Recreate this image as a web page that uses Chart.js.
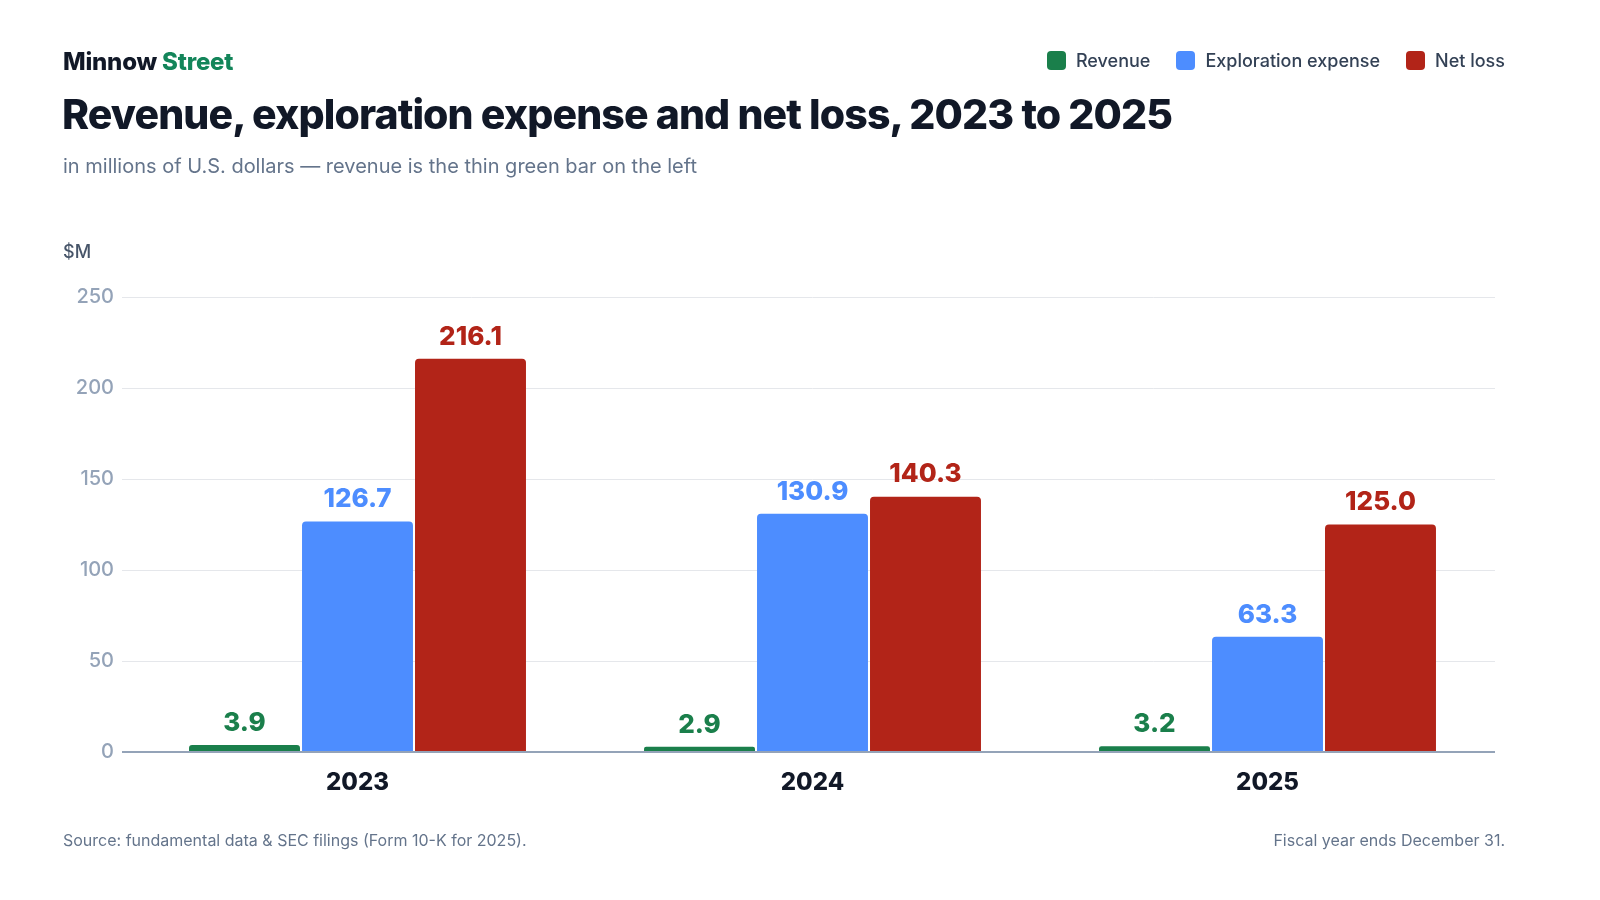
<!DOCTYPE html>
<html>
<head>
<meta charset="utf-8">
<script src="https://cdn.jsdelivr.net/npm/chart.js@4.4.1/dist/chart.umd.min.js"></script>
<style>
  html, body { margin: 0; padding: 0; background: #fff; }
  body { width: 1600px; height: 900px; position: relative; overflow: hidden; font-family: Inter, "Noto Sans", sans-serif; }
  #wrap { position: absolute; left: 0; top: 0; width: 1600px; height: 900px; }
  .abs { position: absolute; white-space: nowrap; }
  #brand { left: 63px; top: 47px; font-size: 24px; font-weight: 800; color: #111827; letter-spacing: -0.2px; }
  #brand span { color: #13855a; }
  #title { left: 62px; top: 89px; font-size: 41px; font-weight: 800; color: #111827; letter-spacing: -0.9px; }
  #subtitle { left: 63px; top: 154px; font-size: 20px; font-weight: 400; color: #64748b; }
  #unit { left: 63px; top: 241px; font-size: 18px; font-weight: 500; color: #475569; }
  #legend { right: 95px; top: 50px; display: flex; gap: 26px; font-size: 18px; font-weight: 500; color: #334155; }
  #legend .item { display: flex; align-items: center; gap: 10px; }
  #legend .sw { width: 19px; height: 19px; border-radius: 4px; display: inline-block; }
  #src { left: 63px; top: 830px; font-size: 16px; color: #64748b; }
  #note { right: 95px; top: 830px; font-size: 16px; color: #64748b; }
</style>
</head>
<body>
<div id="wrap"><canvas id="c" width="1600" height="900"></canvas></div>
<div class="abs" id="brand">Minnow <span>Street</span></div>
<div class="abs" id="title">Revenue, exploration expense and net loss, 2023 to 2025</div>
<div class="abs" id="subtitle">in millions of U.S. dollars — revenue is the thin green bar on the left</div>
<div class="abs" id="unit">$M</div>
<div class="abs" id="legend"></div>
<div class="abs" id="src">Source: fundamental data &amp; SEC filings (Form 10-K for 2025).</div>
<div class="abs" id="note">Fiscal year ends December 31.</div>
<script>
const categories = ["2023", "2024", "2025"];
const revenue = [3.9, 2.9, 3.2];
const explorationExpense = [126.7, 130.9, 63.3];
const netLoss = [216.1, 140.3, 125.0];
const seriesNames = ["Revenue", "Exploration expense", "Net loss"];
const seriesColors = ["#1a7f4b", "#4d8dff", "#b22418"];
const yTicks = [0, 50, 100, 150, 200, 250];

const legend = document.getElementById('legend');
seriesNames.forEach((n, i) => {
  const it = document.createElement('div');
  it.className = 'item';
  it.innerHTML = '<span class="sw" style="background:' + seriesColors[i] + '"></span><span>' + n + '</span>';
  legend.appendChild(it);
});

const valueLabels = {
  id: 'valueLabels',
  afterDatasetsDraw(chart) {
    const ctx = chart.ctx;
    ctx.save();
    ctx.font = '800 26px Inter, "Noto Sans", sans-serif';
    ctx.textAlign = 'center';
    ctx.textBaseline = 'bottom';
    chart.data.datasets.forEach((ds, di) => {
      const meta = chart.getDatasetMeta(di);
      meta.data.forEach((bar, i) => {
        ctx.fillStyle = seriesColors[di];
        ctx.fillText(ds.data[i].toFixed(1), bar.x, bar.y - 9);
      });
    });
    ctx.restore();
  }
};

const seriesData = [revenue, explorationExpense, netLoss];

new Chart(document.getElementById('c'), {
  type: 'bar',
  data: {
    labels: categories,
    datasets: seriesNames.map((n, i) => ({
      label: n,
      data: seriesData[i],
      backgroundColor: seriesColors[i],
      borderRadius: { topLeft: 4, topRight: 4, bottomLeft: 0, bottomRight: 0 },
      borderSkipped: 'bottom',
      categoryPercentage: 0.745,
      barPercentage: 0.982
    }))
  },
  options: {
    responsive: false,
    animation: false,
    devicePixelRatio: 1,
    layout: { padding: { left: 0, right: 105, top: 297, bottom: 0 } },
    plugins: { legend: { display: false }, tooltip: { enabled: false }, title: { display: false } },
    scales: {
      x: {
        grid: { display: false, drawTicks: false },
        border: { display: false },
        ticks: { color: '#111827', font: { family: 'Inter', size: 24, weight: '800' }, padding: 16 },
        afterFit(scale) { scale.height = 148; }
      },
      y: {
        min: 0, max: 250,
        afterBuildTicks(scale) { scale.ticks = yTicks.map(v => ({ value: v })); },
        grid: {
          color: (c) => c.tick && c.tick.value === 0 ? '#94a3b8' : '#e5e7eb',
          lineWidth: (c) => c.tick && c.tick.value === 0 ? 2 : 1,
          tickLength: 8,
          drawTicks: true
        },
        border: { display: false },
        ticks: { color: '#94a3b8', font: { family: 'Inter', size: 20, weight: '500' }, padding: 8 },
        afterFit(scale) { scale.width = 130; }
      }
    }
  },
  plugins: [valueLabels]
});
</script>
</body>
</html>
